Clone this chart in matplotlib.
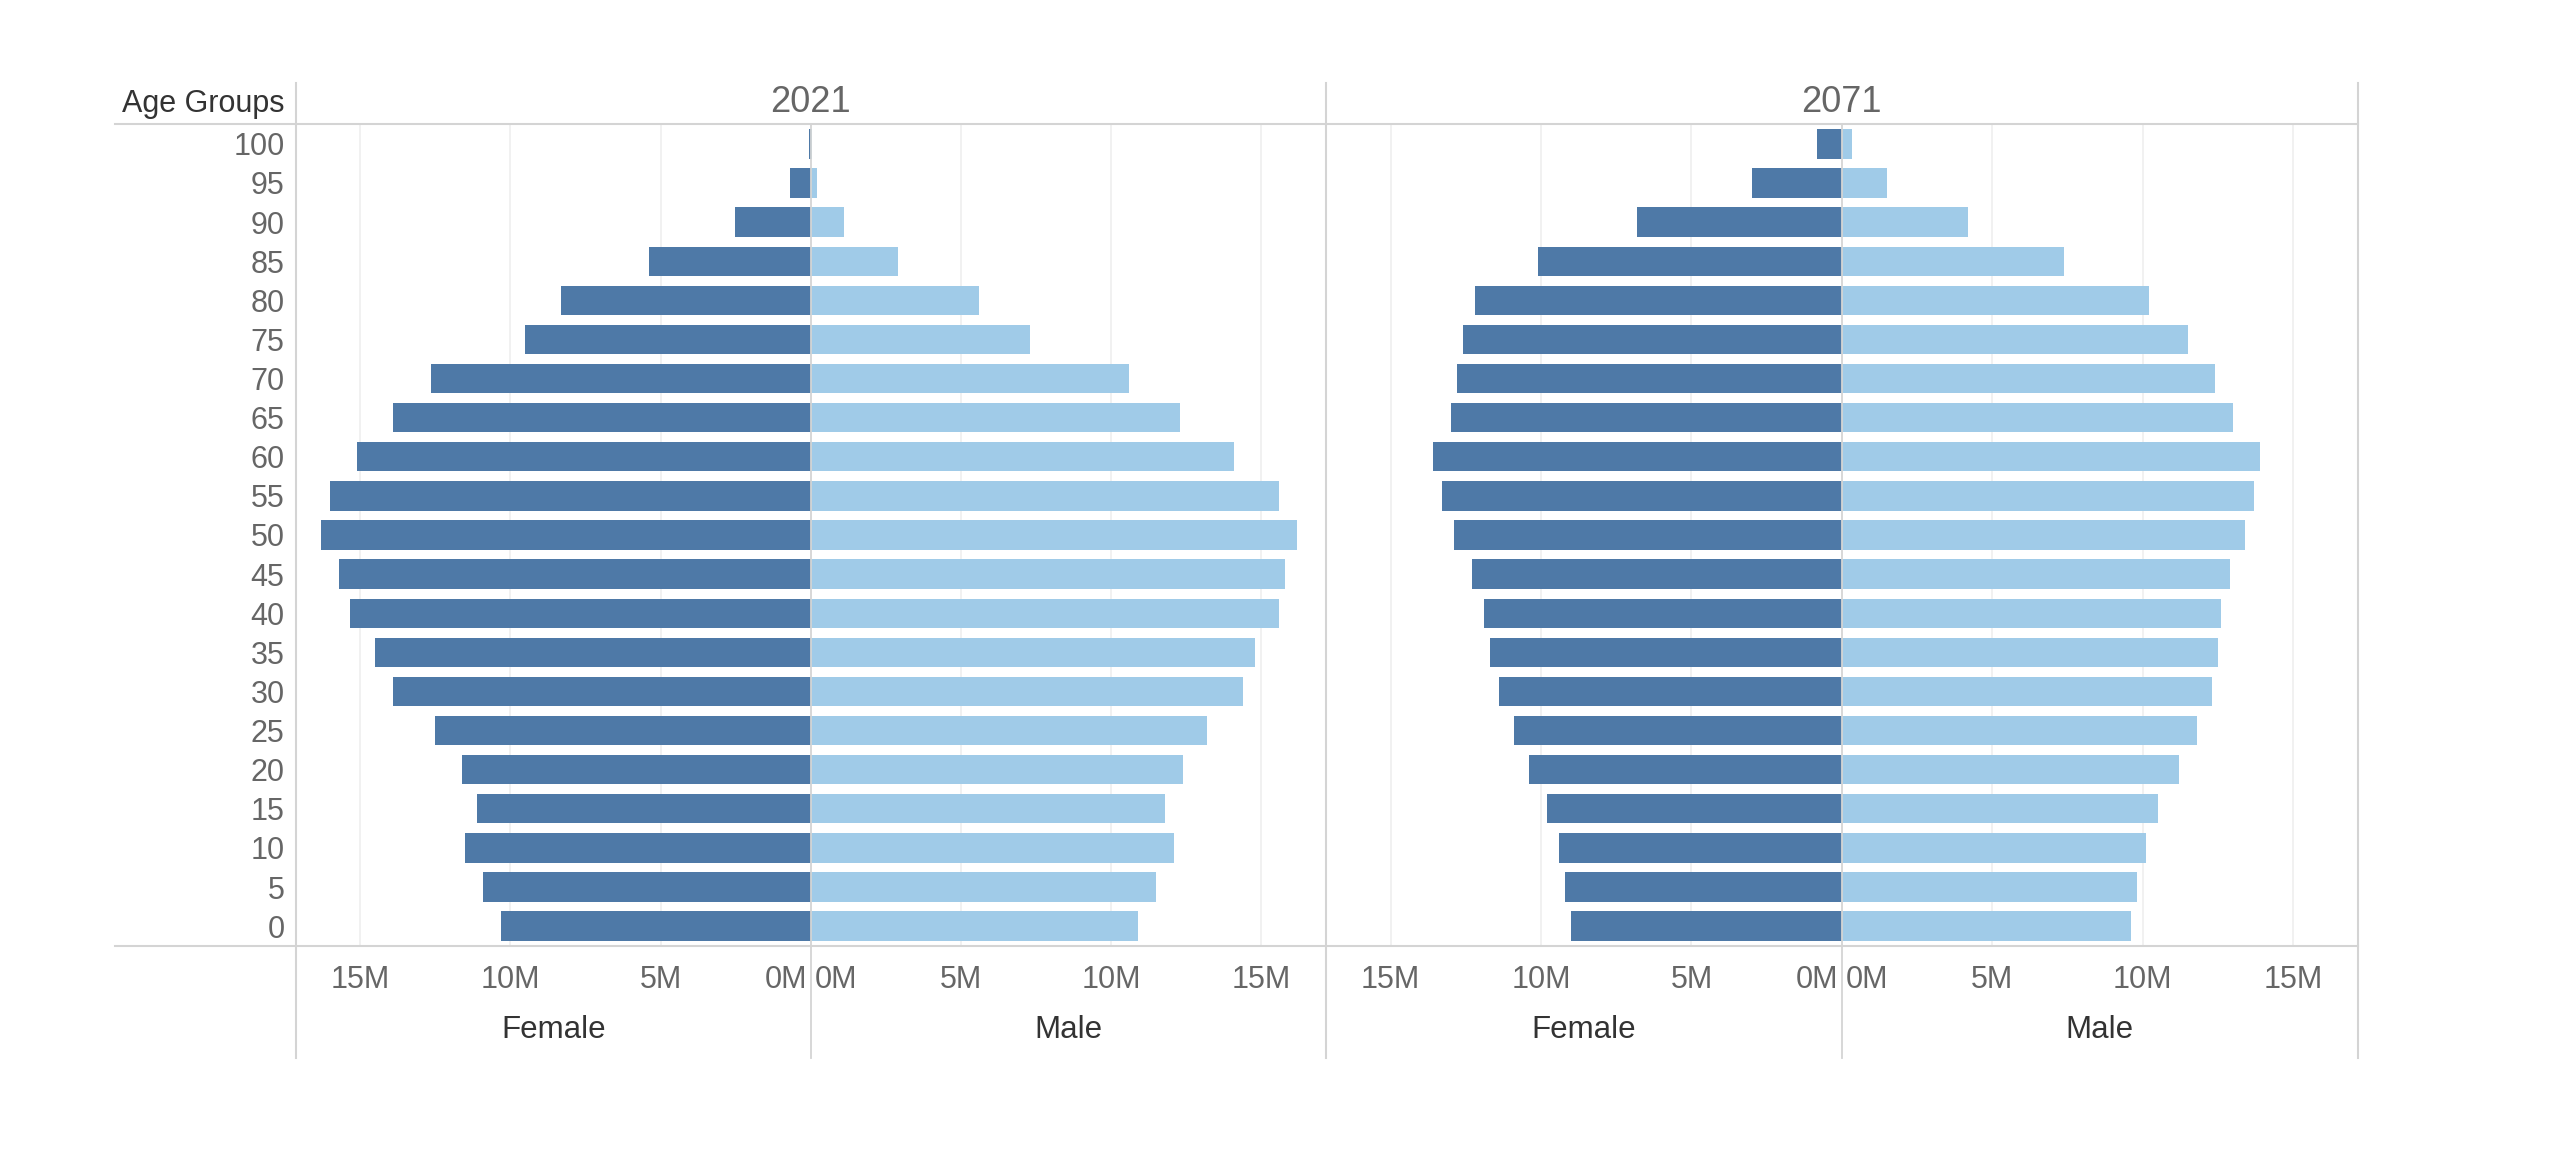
import matplotlib
matplotlib.use("Agg")
import matplotlib.pyplot as plt
from matplotlib.lines import Line2D
from matplotlib.transforms import ScaledTranslation

plt.rcParams['font.family'] = ['Liberation Sans', 'DejaVu Sans']

# Data (millions), age groups 0..100 in steps of 5
age_groups = [0, 5, 10, 15, 20, 25, 30, 35, 40, 45, 50, 55, 60, 65, 70, 75, 80, 85, 90, 95, 100]
years = ["2021", "2071"]

female_2021 = [10.3, 10.9, 11.5, 11.1, 11.6, 12.5, 13.9, 14.5, 15.35, 15.7, 16.3,
               16.0, 15.1, 13.9, 12.65, 9.5, 8.33, 5.39, 2.54, 0.69, 0.05]
male_2021 = [10.9, 11.5, 12.1, 11.8, 12.4, 13.2, 14.4, 14.8, 15.6, 15.8, 16.2,
             15.6, 14.1, 12.3, 10.6, 7.3, 5.6, 2.9, 1.1, 0.2, 0.05]
female_2071 = [9.0, 9.2, 9.4, 9.8, 10.4, 10.9, 11.4, 11.7, 11.9, 12.3, 12.9,
               13.3, 13.6, 13.0, 12.8, 12.6, 12.2, 10.1, 6.8, 3.0, 0.83]
male_2071 = [9.6, 9.8, 10.1, 10.5, 11.2, 11.8, 12.3, 12.5, 12.6, 12.9, 13.4,
             13.7, 13.9, 13.0, 12.4, 11.5, 10.2, 7.4, 4.2, 1.5, 0.33]

tick_vals = [0, 5, 10, 15]
tick_labels = ["0M", "5M", "10M", "15M"]

DARK = '#4e79a7'
LIGHT = '#a0cbe8'
BORDER = '#d4d4d4'
GRID = '#efefef'
TICK_COLOR = '#666666'
LABEL_COLOR = '#333333'

W, H = 2560, 1174
fig = plt.figure(figsize=(W / 100, H / 100), dpi=100, facecolor='white')

# pixel geometry of the panels
x_left, x_mid, x_right = 295.7, 1326.0, 2357.7
y_top, y_bot = 124.3, 945.7
centers = [(x_left + x_mid) / 2, (x_mid + x_right) / 2]
xmax = 17.15


def fx(px):
    return px / W


def fy(py):
    return 1 - py / H


panels = [(female_2021, male_2021), (female_2071, male_2071)]
panel_edges = [(x_left, x_mid), (x_mid, x_right)]
ypos = list(range(len(age_groups)))

for i, (fem, mal) in enumerate(panels):
    lo, hi = panel_edges[i]
    c = centers[i]
    for side, vals, color in [("Female", fem, DARK), ("Male", mal, LIGHT)]:
        if side == "Female":
            l, r = lo, c
        else:
            l, r = c, hi
        ax = fig.add_axes([fx(l), fy(y_bot), fx(r - l), (y_bot - y_top) / H])
        ax.set_facecolor('none')
        for s in ax.spines.values():
            s.set_visible(False)
        for t in tick_vals[1:]:
            ax.axvline(t, color=GRID, linewidth=1.2, zorder=0)
        ax.barh(ypos, vals, height=0.75, color=color, zorder=2)
        ax.set_ylim(-0.5, len(age_groups) - 0.5)
        if side == "Female":
            ax.set_xlim(xmax, 0)
        else:
            ax.set_xlim(0, xmax)
        ax.set_xticks(tick_vals)
        ax.set_xticklabels(tick_labels)
        ax.tick_params(axis='x', length=0, pad=14, labelsize=22, labelcolor=TICK_COLOR)
        # nudge the two 0M labels apart from the centre line
        shift = -4 if side == "Female" else 4
        for lab in ax.get_xticklabels():
            if lab.get_text() == "0M":
                lab.set_ha('right' if side == "Female" else 'left')
                lab.set_transform(lab.get_transform() + ScaledTranslation(shift / 100, 0, fig.dpi_scale_trans))
        ax.set_xlabel(side, fontsize=22.5, color=LABEL_COLOR, labelpad=14)
        if i == 0 and side == "Female":
            ax.set_yticks(ypos)
            ax.set_yticklabels([str(a) for a in age_groups])
            ax.tick_params(axis='y', length=0, pad=8, labelsize=22, labelcolor=TICK_COLOR)
        else:
            ax.set_yticks([])
    # year header
    fig.text(fx(c), fy(102), years[i], ha='center', va='center', fontsize=26, color=TICK_COLOR)
    # zero line
    fig.add_artist(Line2D([fx(c), fx(c)], [fy(y_top), fy(1058)], color=BORDER, linewidth=1.3, zorder=5))

fig.text(fx(284), fy(104), "Age Groups", ha='right', va='center', fontsize=22, color=LABEL_COLOR)

# frame lines
for xp in [x_left, x_mid, x_right]:
    fig.add_artist(Line2D([fx(xp), fx(xp)], [fy(83), fy(1058)], color=BORDER, linewidth=1.5))
for yp in [y_top, y_bot]:
    fig.add_artist(Line2D([fx(115), fx(x_right)], [fy(yp), fy(yp)], color=BORDER, linewidth=1.5))

fig.savefig("out.png", dpi=100, facecolor='white')
